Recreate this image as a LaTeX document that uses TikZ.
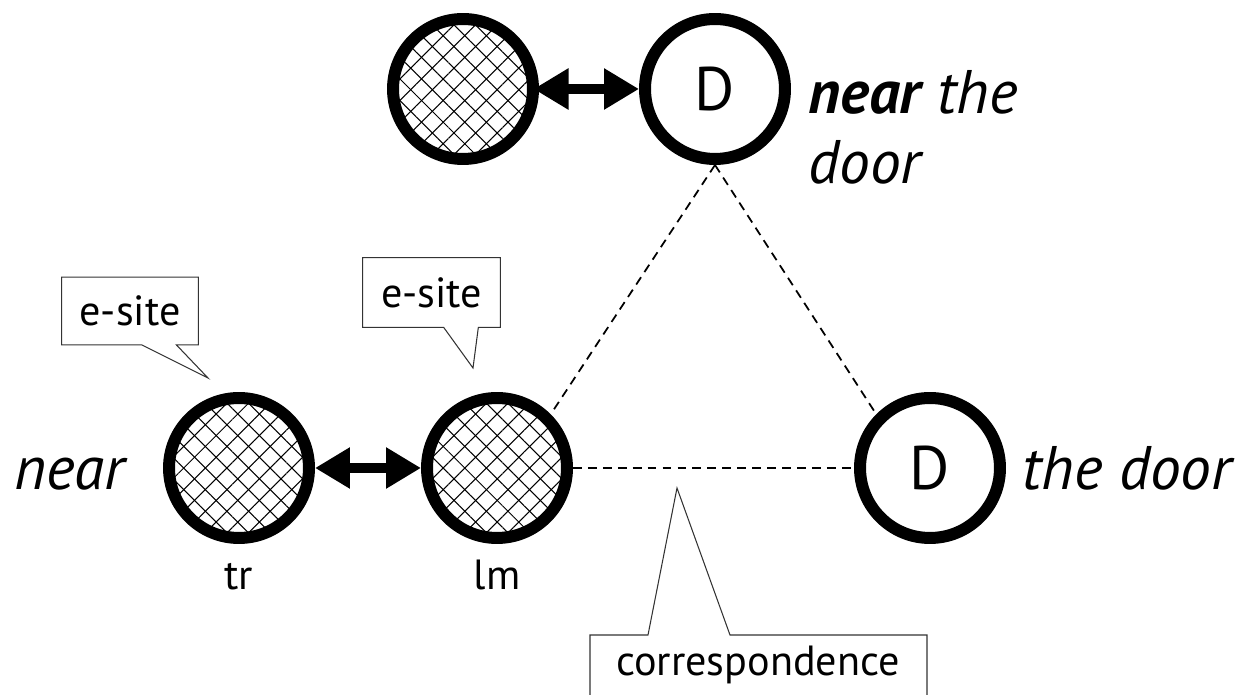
\documentclass[tikz,border=0pt]{standalone}
\usepackage{fontspec}
\setmainfont{PT Sans}
\newcommand*{\bigfont}{\fontsize{35}{40}\selectfont}
\newcommand*{\smallfont}{\fontsize{24}{28}\selectfont}
\usetikzlibrary{arrows.meta}
\usetikzlibrary{patterns.meta}
\usetikzlibrary{calc}
\usetikzlibrary{positioning}
\tikzstyle{base}=[x=0.02cm, y=-0.02cm, inner sep=0pt]
\tikzstyle{thing}=[circle, draw=black, line width=0.24cm, minimum size=2.8cm]
\tikzstyle{site}=[thing, pattern={Lines[angle=45,distance=8.7pt,line width=0.6pt]}, postaction={pattern={Lines[angle=-45,distance=8.7pt,line width=0.6pt]}}]
\tikzstyle{link}=[line width=0.2cm, {Triangle[length=0.7cm,width=0.78cm]}-{Triangle[length=0.7cm,width=0.78cm]}]
\tikzstyle{match}=[line width=1pt, dash pattern=on 5pt off 3.5pt]
\tikzstyle{note}=[draw=black!80, line width=0.6pt]

\begin{document}
\begin{tikzpicture}[base]
    \useasboundingbox (0,0) rectangle (1249,695);
    \clip (0,0) rectangle (1249,695);
        \node [site] (tra) at (463,89) {};
        \node [thing] (doora) at (715,89) {\bigfont D};
        \node [site] (tr) at (239,468) {};
        \node [site] (lm) at (497,468) {};
        \node [thing] (doorb) at (930,468) {\bigfont D};
        \draw [link] (tra) -- (doora);
        \draw [link] (tr) -- (lm);
        \draw [match] (doora.south) -- (lm.north east);
        \draw [match] (doora.south) -- (doorb.north west);
        \draw [match] (lm.east) -- (doorb.west);
        \node [anchor=west, align=left, font=\bigfont\itshape] (phrase) at (808,127) {\textbf{near} the\\door};
        \node [anchor=base east, font=\bigfont\itshape] (nearlab) at (125,490) {near};
        \node [anchor=base west, font=\bigfont\itshape] (doorlab) at (1022,490) {the door};
        \node [anchor=base, font=\smallfont] (trlab) at (239,590) {tr};
        \node [anchor=base, font=\smallfont] (lmlab) at (497,590) {lm};
        \node [font=\smallfont, minimum width=2.72cm, minimum height=1.34cm] (sitea) at (130,311) {e-site};
        \coordinate (sitea tip) at (208,378);
        \draw [note] (sitea.south west) -- (sitea.north west) -- (sitea.north east) -- (sitea.south east) -- ([xshift=-0.44cm]sitea.south east) -- (sitea tip) -- ([xshift=1.6cm]sitea.south west) -- cycle;
        \node [font=\smallfont, minimum width=2.74cm, minimum height=1.38cm] (siteb) at (431.5,292.5) {e-site};
        \coordinate (siteb tip) at (473,368);
        \draw [note] (siteb.south west) -- (siteb.north west) -- (siteb.north east) -- (siteb.south east) -- ([xshift=-0.44cm]siteb.south east) -- (siteb tip) -- ([xshift=1.62cm]siteb.south west) -- cycle;
        \node [font=\smallfont] (corr) at (758,665) {correspondence};
        \coordinate (corr tip) at (677,488);
        \draw [note] ($(corr)+(-168,60)$) -- ($(corr)+(-168,-30)$) -- ($(corr)+(-110,-30)$) -- (corr tip) -- ($(corr)+(-28,-30)$) -- ($(corr)+(169,-30)$) -- ($(corr)+(169,60)$);
    \end{tikzpicture}
\end{document}
